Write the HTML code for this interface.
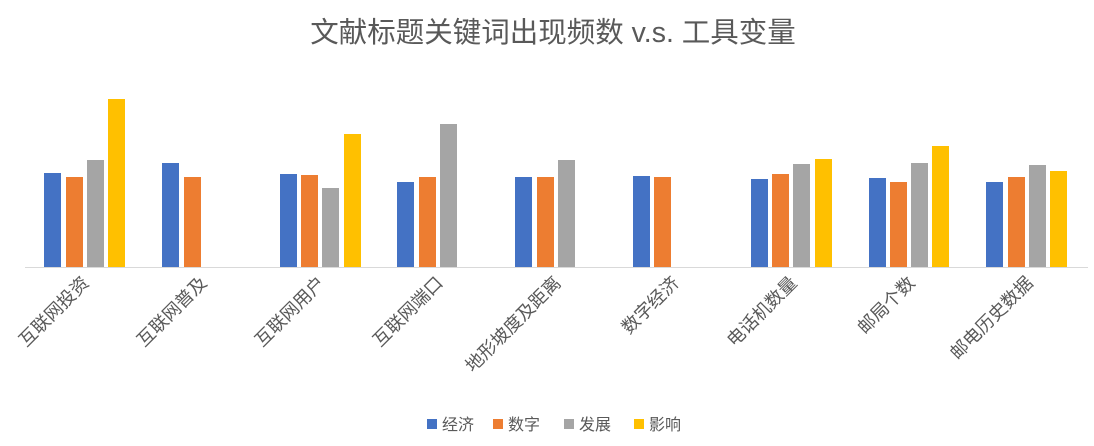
<!DOCTYPE html>
<html><head><meta charset="utf-8"><style>
body{margin:0;background:#fff;}
svg{display:block;font-family:"Liberation Sans","Noto Sans CJK SC",sans-serif;}
</style></head><body>
<svg width="1094" height="446" viewBox="0 0 1094 446">
<rect width="1094" height="446" fill="#fff"/>
<text x="553" y="42" text-anchor="middle" font-size="28.5" fill="#595959">文献标题关键词出现频数 v.s. 工具变量</text>
<line x1="25" y1="267.5" x2="1088" y2="267.5" stroke="#d9d9d9" stroke-width="1"/>
<g>
<rect x="44" y="173" width="17" height="94" fill="#4472c4"/>
<rect x="66" y="177" width="17" height="90" fill="#ed7d31"/>
<rect x="87" y="160" width="17" height="107" fill="#a5a5a5"/>
<rect x="108" y="99" width="17" height="168" fill="#ffc000"/>
<rect x="162" y="163" width="17" height="104" fill="#4472c4"/>
<rect x="184" y="177" width="17" height="90" fill="#ed7d31"/>
<rect x="280" y="174" width="17" height="93" fill="#4472c4"/>
<rect x="301" y="175" width="17" height="92" fill="#ed7d31"/>
<rect x="322" y="188" width="17" height="79" fill="#a5a5a5"/>
<rect x="344" y="134" width="17" height="133" fill="#ffc000"/>
<rect x="397" y="182" width="17" height="85" fill="#4472c4"/>
<rect x="419" y="177" width="17" height="90" fill="#ed7d31"/>
<rect x="440" y="124" width="17" height="143" fill="#a5a5a5"/>
<rect x="515" y="177" width="17" height="90" fill="#4472c4"/>
<rect x="537" y="177" width="17" height="90" fill="#ed7d31"/>
<rect x="558" y="160" width="17" height="107" fill="#a5a5a5"/>
<rect x="633" y="176" width="17" height="91" fill="#4472c4"/>
<rect x="654" y="177" width="17" height="90" fill="#ed7d31"/>
<rect x="751" y="179" width="17" height="88" fill="#4472c4"/>
<rect x="772" y="174" width="17" height="93" fill="#ed7d31"/>
<rect x="793" y="164" width="17" height="103" fill="#a5a5a5"/>
<rect x="815" y="159" width="17" height="108" fill="#ffc000"/>
<rect x="869" y="178" width="17" height="89" fill="#4472c4"/>
<rect x="890" y="182" width="17" height="85" fill="#ed7d31"/>
<rect x="911" y="163" width="17" height="104" fill="#a5a5a5"/>
<rect x="932" y="146" width="17" height="121" fill="#ffc000"/>
<rect x="986" y="182" width="17" height="85" fill="#4472c4"/>
<rect x="1008" y="177" width="17" height="90" fill="#ed7d31"/>
<rect x="1029" y="165" width="17" height="102" fill="#a5a5a5"/>
<rect x="1050" y="171" width="17" height="96" fill="#ffc000"/>
</g>
<g font-size="18" fill="#595959" text-anchor="end">
<text transform="translate(90,284) rotate(-45)">互联网投资</text>
<text transform="translate(208,284) rotate(-45)">互联网普及</text>
<text transform="translate(326,284) rotate(-45)">互联网用户</text>
<text transform="translate(444,284) rotate(-45)">互联网端口</text>
<text transform="translate(562,284) rotate(-45)">地形坡度及距离</text>
<text transform="translate(680,284) rotate(-45)">数字经济</text>
<text transform="translate(798,284) rotate(-45)">电话机数量</text>
<text transform="translate(916,284) rotate(-45)">邮局个数</text>
<text transform="translate(1034,284) rotate(-45)">邮电历史数据</text>
</g>
<g font-size="16" fill="#595959">
<rect x="427" y="419" width="10" height="10" fill="#4472c4"/><text x="442" y="430">经济</text>
<rect x="493" y="419" width="10" height="10" fill="#ed7d31"/><text x="508" y="430">数字</text>
<rect x="564" y="419" width="10" height="10" fill="#a5a5a5"/><text x="579" y="430">发展</text>
<rect x="634" y="419" width="10" height="10" fill="#ffc000"/><text x="649" y="430">影响</text>
</g>
</svg>
</body></html>
